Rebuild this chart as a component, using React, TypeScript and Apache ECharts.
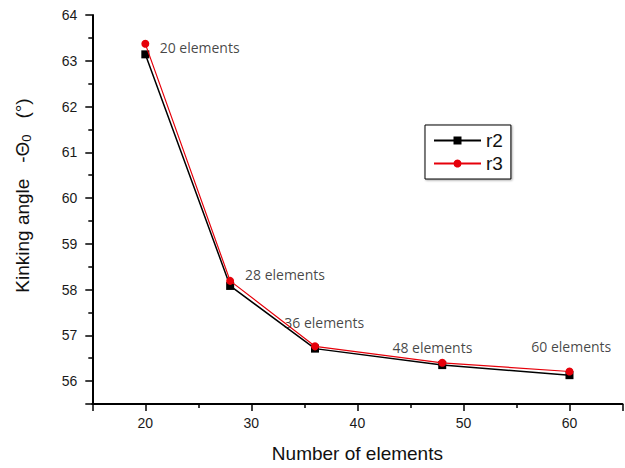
import React, { useEffect, useRef } from "react";
import * as echarts from "echarts";

const xValues = [20, 28, 36, 48, 60];
const r2Values = [63.14, 58.08, 56.71, 56.35, 56.13];
const r3Values = [63.37, 58.19, 56.76, 56.4, 56.21];

const annotText = ["20 elements", "28 elements", "36 elements", "48 elements", "60 elements"];
const annotX = [21.35, 29.4, 33.1, 43.3, 56.4];
const annotY = [63.28, 58.33, 57.29, 56.73, 56.75];

const FONT = "Arial, 'Liberation Sans', sans-serif";

export default function App() {
  const ref = useRef<HTMLDivElement>(null);
  useEffect(() => {
    if (!ref.current) return;
    const chart = echarts.init(ref.current, null, { renderer: "svg" });
    const axisCommon = {
      axisLine: { show: true, lineStyle: { color: "#000", width: 2 } },
      axisTick: { show: true, inside: false, length: 7, lineStyle: { color: "#000", width: 1.5 } },
      minorTick: { show: true, splitNumber: 2, length: 4, lineStyle: { color: "#000", width: 1.5 } },
      splitLine: { show: false },
      minorSplitLine: { show: false },
    };
    chart.setOption({
      animation: false,
      backgroundColor: "#fff",
      grid: { left: 92.3, right: 2.5, top: 15, bottom: 57.3, containLabel: false },
      legend: {
        data: ["r2", "r3"],
        orient: "vertical",
        left: 425,
        top: 125,
        itemWidth: 47,
        itemHeight: 10,
        itemGap: 4,
        padding: [6, 8, 6, 8],
        borderColor: "#000",
        borderWidth: 1,
        backgroundColor: "#fff",
        shadowColor: "rgba(0,0,0,0.35)",
        shadowBlur: 2,
        shadowOffsetX: 1,
        shadowOffsetY: 1,
        textStyle: { fontFamily: FONT, fontSize: 19, color: "#111" },
      },
      xAxis: {
        type: "value",
        min: 15,
        max: 65,
        splitNumber: 5,
        ...axisCommon,
        axisLabel: {
          showMinLabel: false,
          showMaxLabel: false,
          margin: 12,
          fontFamily: FONT,
          fontSize: 14,
          color: "#1a1a1a",
        },
        name: "Number of elements",
        nameLocation: "middle",
        nameGap: 40,
        nameTextStyle: { fontFamily: FONT, fontSize: 19, color: "#111" },
      },
      yAxis: {
        type: "value",
        min: 55.5,
        max: 64,
        splitNumber: 8,
        ...axisCommon,
        axisLabel: {
          showMinLabel: false,
          margin: 15,
          fontFamily: FONT,
          fontSize: 14,
          color: "#1a1a1a",
          formatter: (v: number) => String(v),
        },
        name: "{a|Kinking angle   -Θ}{s|0}{a|   (°)}",
        nameLocation: "middle",
        nameGap: 58,
        nameTextStyle: {
          padding: [0, 0, 0, 28],
          rich: {
            a: { fontFamily: FONT, fontSize: 19, color: "#111", lineHeight: 24 },
            s: { fontFamily: FONT, fontSize: 13, color: "#111", lineHeight: 24, padding: [9, 0, 0, 0] },
          },
        },
      },
      series: [
        {
          name: "r2",
          type: "line",
          data: xValues.map((x, i) => [x, r2Values[i]]),
          symbol: "rect",
          symbolSize: 8,
          itemStyle: { color: "#000" },
          lineStyle: { color: "#000", width: 1.5 },
          z: 2,
        },
        {
          name: "r3",
          type: "line",
          data: xValues.map((x, i) => [x, r3Values[i]]),
          symbol: "circle",
          symbolSize: 8,
          itemStyle: { color: "#e6000a" },
          lineStyle: { color: "#e6000a", width: 1.2 },
          z: 3,
        },
        {
          name: "annotations",
          type: "scatter",
          silent: true,
          symbolSize: 0,
          data: annotText.map((t, i) => ({ name: t, value: [annotX[i], annotY[i]] })),
          label: {
            show: true,
            position: "right",
            distance: 0,
            formatter: (p: any) => p.name,
            fontFamily: "'Open Sans', sans-serif",
            fontSize: 14,
            color: "#141414",
          },
          z: 4,
        },
      ],
    });
    return () => chart.dispose();
  }, []);
  return (
    <div
      ref={ref}
      style={{ position: "absolute", left: 0, top: 0, width: 625, height: 468 }}
    />
  );
}
